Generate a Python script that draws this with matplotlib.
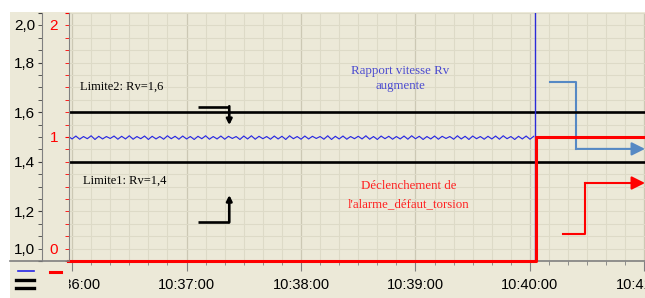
import matplotlib
matplotlib.use("Agg")
import matplotlib.pyplot as plt
import numpy as np
from matplotlib.patches import Rectangle
from matplotlib.lines import Line2D
from matplotlib.ticker import MultipleLocator
from matplotlib.transforms import Bbox, TransformedBbox, ScaledTranslation

# --- data (time in seconds after 10:36:00) ---
time_ticks = [0, 60, 120, 180, 240, 300]
time_labels = ["10:36:00", "10:37:00", "10:38:00", "10:39:00", "10:40:00", "10:41:00"]
rv_ticks = [1.0, 1.2, 1.4, 1.6, 1.8, 2.0]
rv_labels = ["1,0", "1,2", "1,4", "1,6", "1,8", "2,0"]
alarm_ticks = [0, 1, 2]
alarm_labels = ["0", "1", "2"]

rv_times = np.arange(-2, 243, 2)
rv_values = [
    1.503, 1.492, 1.504, 1.491, 1.502, 1.493, 1.505, 1.490, 1.503, 1.492,
    1.502, 1.494, 1.504, 1.491, 1.503, 1.492, 1.505, 1.491, 1.502, 1.493,
    1.504, 1.490, 1.503, 1.492, 1.502, 1.491, 1.505, 1.493, 1.503, 1.491,
    1.504, 1.492, 1.502, 1.490, 1.503, 1.493, 1.505, 1.491, 1.502, 1.492,
    1.504, 1.491, 1.503, 1.494, 1.502, 1.490, 1.504, 1.492, 1.505, 1.491,
    1.503, 1.493, 1.502, 1.491, 1.504, 1.492, 1.503, 1.490, 1.505, 1.493,
    1.502, 1.491, 1.504, 1.492, 1.503, 1.494, 1.502, 1.491, 1.505, 1.490,
    1.503, 1.492, 1.504, 1.491, 1.502, 1.493, 1.503, 1.492, 1.505, 1.491,
    1.502, 1.490, 1.504, 1.493, 1.503, 1.491, 1.502, 1.492, 1.504, 1.491,
    1.505, 1.493, 1.503, 1.490, 1.502, 1.492, 1.504, 1.491, 1.503, 1.494,
    1.502, 1.491, 1.505, 1.492, 1.503, 1.490, 1.504, 1.493, 1.502, 1.491,
    1.503, 1.492, 1.504, 1.491, 1.505, 1.493, 1.502, 1.490, 1.503, 1.492,
    1.504, 1.491, 1.503,
]
alarm_times = [-2, 243.3, 243.3, 301]
alarm_values = [0, 0, 1, 1]
limit_values = [1.6, 1.4]
cursor_time = 242.6

BEIGE = "#ECE9D8"
GRID = "#DDDAC7"
GRID_MAJOR = "#CCC8B4"
SPINE = "#808080"
TICK_FONT = "Liberation Sans"
SERIF = "Liberation Serif"

W, H = 645, 298
fig = plt.figure(figsize=(W / 100, H / 100), dpi=100, facecolor="white")
fig.patches.append(Rectangle((10 / W, 0), 1, (H - 12) / H, transform=fig.transFigure,
                             facecolor=BEIGE, edgecolor="none", zorder=-10))

ax = fig.add_axes([69 / W, (H - 261) / H, 1 - 69 / W, (261 - 13) / H])
ax.set_facecolor("none")
ax.set_xlim(-1.6, 300.3)
ax.set_ylim(1.0, 2.0)

# grid
ax.xaxis.set_minor_locator(MultipleLocator(10))
ax.yaxis.set_minor_locator(MultipleLocator(0.05))
ax.grid(True, which="minor", color=GRID, lw=0.8, zorder=0)
ax.grid(True, which="major", axis="x", color=GRID_MAJOR, lw=0.9, zorder=0)
ax.grid(True, which="major", axis="y", color=GRID, lw=0.8, zorder=0)
ax.set_axisbelow(True)

for s in ["top", "right"]:
    ax.spines[s].set_visible(False)
ax.spines["left"].set_position(("outward", 27 * 0.72))
ax.spines["left"].set_color(SPINE)
ax.spines["bottom"].set_color(SPINE)
ax.spines["bottom"].set_linewidth(1.2)

ax.set_xticks(time_ticks)
ax.set_xticklabels(time_labels, family=TICK_FONT, fontsize=10.5)
ax.set_yticks(rv_ticks)
ax.set_yticklabels(rv_labels, family=TICK_FONT, fontsize=11)
ax.tick_params(axis="x", which="major", length=7, color=SPINE, pad=5)
ax.tick_params(axis="x", which="minor", length=3, color=SPINE)
ax.tick_params(axis="y", which="both", length=3, color="#404040", pad=2)

clip = TransformedBbox(Bbox.from_extents(69 / W, 0, 1, 1), fig.transFigure)
for lab in ax.get_xticklabels():
    lab.set_clip_box(clip)
    lab.set_clip_on(True)

# end labels sit inside the axis
yt = ax.yaxis.get_major_ticks()
yt[0].label1.set_transform(yt[0].label1.get_transform() + ScaledTranslation(0, 0.13, fig.dpi_scale_trans))
yt[-1].label1.set_transform(yt[-1].label1.get_transform() + ScaledTranslation(0, -0.12, fig.dpi_scale_trans))

# red alarm axis
ax2 = ax.twinx()
ax2.set_ylim(0, 2)
ax2.yaxis.tick_left()
for s in ["top", "right", "bottom"]:
    ax2.spines[s].set_visible(False)
ax2.spines["left"].set_visible(True)
ax2.spines["left"].set_color(SPINE)
ax2.set_yticks(alarm_ticks)
ax2.set_yticklabels(alarm_labels, family=TICK_FONT, fontsize=11, color="red")
ax2.yaxis.set_minor_locator(MultipleLocator(0.1))
ax2.tick_params(axis="y", which="both", length=3, color="red", pad=5)
yt2 = ax2.yaxis.get_major_ticks()
yt2[0].label1.set_transform(yt2[0].label1.get_transform() + ScaledTranslation(0, 0.13, fig.dpi_scale_trans))
yt2[-1].label1.set_transform(yt2[-1].label1.get_transform() + ScaledTranslation(0, -0.12, fig.dpi_scale_trans))

# series
for v in limit_values:
    ax.axhline(v, color="black", lw=1.9, zorder=3)
ax.plot(rv_times, rv_values, color="#2626E6", lw=0.8, zorder=4)
ax.axvline(cursor_time, color="#2B2BD8", lw=1.0, zorder=5)
ax2.plot(alarm_times, alarm_values, color="red", lw=2.2, clip_on=False, zorder=6)

# annotations
ax.text(4.2, 1.702, "Limite2: Rv=1,6", family=SERIF, fontsize=9, va="center", ha="left")
ax.text(5.8, 1.324, "Limite1: Rv=1,4", family=SERIF, fontsize=9, va="center", ha="left")
ax.text(172, 1.737, "Rapport vitesse Rv\naugmente", family=SERIF, fontsize=9.3,
        color="#4B4BD0", ha="center", va="center", linespacing=1.3)
ax.text(176.5, 1.266, "Déclenchement de\nl'alarme_défaut_torsion", family=SERIF, fontsize=9.3,
        color="#FF2020", ha="center", va="center", linespacing=1.75)

# black bracket arrows
ax.plot([65.9, 82.4], [1.622, 1.622], color="black", lw=1.9, solid_capstyle="butt")
ax.annotate("", xy=(82.4, 1.548), xytext=(82.4, 1.624),
            arrowprops=dict(arrowstyle="-|>", color="black", lw=1.9, mutation_scale=8, shrinkA=0, shrinkB=0))
ax.plot([65.9, 82.4], [1.158, 1.158], color="black", lw=1.9, solid_capstyle="butt")
ax.annotate("", xy=(82.4, 1.266), xytext=(82.4, 1.156),
            arrowprops=dict(arrowstyle="-|>", color="black", lw=1.9, mutation_scale=8, shrinkA=0, shrinkB=0))

# connectors to the right
ax.plot([250.5, 264.1, 264.1], [1.721, 1.721, 1.452], color="#5689C4", lw=1.5, clip_on=False)
ax.annotate("", xy=(300.3, 1.452), xytext=(264.1, 1.452), annotation_clip=False,
            arrowprops=dict(arrowstyle="-|>", color="#5689C4", lw=1.5, mutation_scale=20, shrinkA=0, shrinkB=0))
ax.plot([257.3, 268.8, 268.8], [1.109, 1.109, 1.3145], color="red", lw=1.5, clip_on=False)
ax.annotate("", xy=(300.3, 1.3145), xytext=(268.8, 1.3145), annotation_clip=False,
            arrowprops=dict(arrowstyle="-|>", color="red", lw=1.5, mutation_scale=20, shrinkA=0, shrinkB=0))

# frame pieces and legend marks outside the axes
def fig_line(x0, x1, y0, y1, **kw):
    fig.add_artist(Line2D([x0 / W, x1 / W], [1 - y0 / H, 1 - y1 / H], transform=fig.transFigure, **kw))

fig_line(10, 69, 261, 261, color=SPINE, lw=1.2)
fig_line(18, 34, 271, 271, color="#2626E6", lw=1.2)
fig_line(50, 61, 272, 272, color="red", lw=2.2)
fig_line(16, 34, 280, 280, color="black", lw=2.4)
fig_line(16, 34, 288, 288, color="black", lw=2.4)

fig.savefig("out.png", dpi=100, facecolor="white")
